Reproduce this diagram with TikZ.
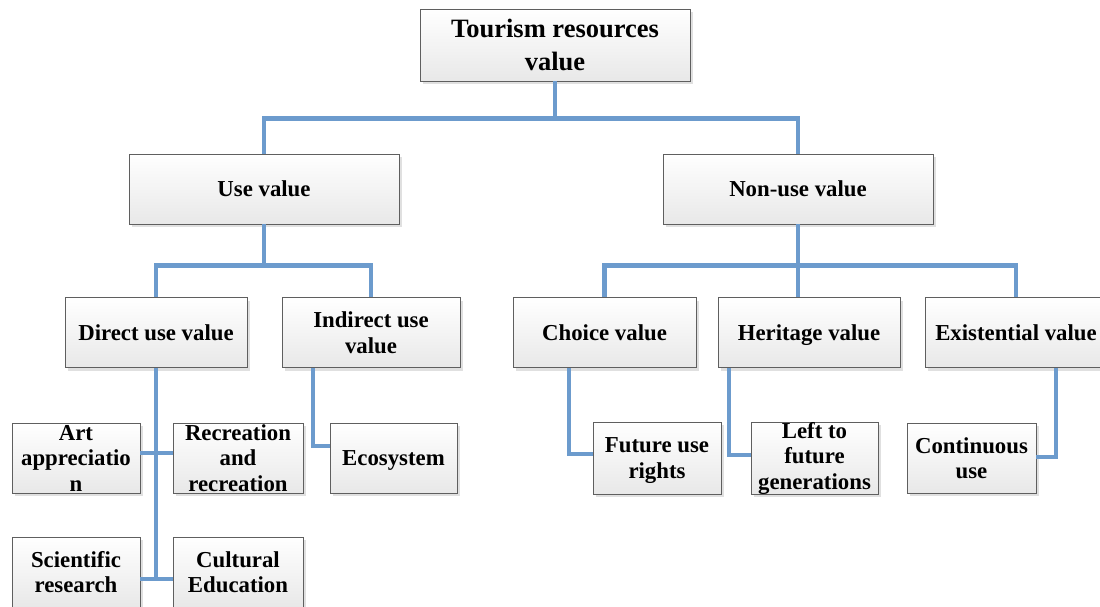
\documentclass[tikz,border=0pt]{standalone}
\usepackage{fontspec}
\setmainfont{Liberation Serif}
\usepackage{tikz}
\usetikzlibrary{shadows}

\definecolor{linkblue}{RGB}{108,155,205}
\definecolor{boxedge}{RGB}{95,95,95}

\begin{document}
\begin{tikzpicture}[x=1pt,y=-1pt,
  box node/.style={rectangle,draw=boxedge,line width=0.8pt,top color=white,bottom color=black!9,
    drop shadow={shadow xshift=3pt,shadow yshift=-3pt,fill=black!12,opacity=1},
    align=center,inner sep=0pt,minimum height=70pt,font=\fontsize{22.8}{25.5}\selectfont\bfseries},
  link/.style={draw=linkblue,line width=4.5pt}]

  \useasboundingbox (0,0) rectangle (1100,606);

  \node[box node,minimum width=270pt,minimum height=72pt,font=\fontsize{26.5}{33}\selectfont\bfseries] (root) at (555,45) {Tourism resources\\value};
  \node[box node,minimum width=270pt] (usev) at (264,189) {Use value};
  \node[box node,minimum width=270pt] (nonuse) at (798,189) {Non-use value};

  \node[box node,minimum width=182pt] (direct) at (156,332.5) {Direct use value};
  \node[box node,minimum width=178pt] (indirect) at (371,332.5) {Indirect use\\value};
  \node[box node,minimum width=183pt] (choice) at (604.5,332.5) {Choice value};
  \node[box node,minimum width=182pt] (heritage) at (809,332.5) {Herita\smash{g}e value};
  \node[box node,minimum width=182pt] (exist) at (1016,332.5) {Existential value};

  \node[box node,minimum width=128pt] (art) at (76,458) {Art\\appreciatio\\n};
  \node[box node,minimum width=130pt] (recr) at (238,458) {Recreation\\and\\recreation};
  \node[box node,minimum width=128pt] (sci) at (76,572) {Scientific\\research};
  \node[box node,minimum width=130pt] (cult) at (238,572) {Cultural\\Education};
  \node[box node,minimum width=127pt] (eco) at (393.5,458) {Ecos\smash{y}stem};
  \node[box node,minimum width=128pt,minimum height=72pt] (future) at (657,458) {Future use\\ri\smash{g}hts};
  \node[box node,minimum width=127pt] (left) at (814.5,458) {Left to\\future\\generations};
  \node[box node,minimum width=129pt] (cont) at (971.5,458) {Continuous\\use};

  % tree links
  \draw[link] (root.south) -- ++(0,37) coordinate (rj);
  \draw[link] (usev.north) |- (rj) -| (nonuse.north);

  \draw[link] (usev.south) -- ++(0,41) coordinate (uj);
  \draw[link] (direct.north) |- (uj) -| (indirect.north);

  \draw[link] (nonuse.south) -- ++(0,41) coordinate (nj);
  \draw[link] (choice.north) |- (nj) -| (exist.north);
  \draw[link] (nj) -- (nj |- heritage.north);

  % leaf links
  \coordinate (sj) at ([yshift=-7pt]sci.east);
  \draw[link] (direct.south) -- (direct.south |- sj);
  \draw[link] (sj) -- (sj -| cult.west);
  \draw[link] ([yshift=5pt]art.east) -- ([yshift=5pt]recr.west);
  \draw[link] ([xshift=-58pt]indirect.south) |- ([yshift=12pt]eco.west);
  \draw[link] ([xshift=-35.5pt]choice.south) |- ([yshift=4pt]future.west);
  \draw[link] ([xshift=-80pt]heritage.south) |- ([yshift=3pt]left.west);
  \draw[link] ([xshift=40pt]exist.south) |- ([yshift=1pt]cont.east);
\end{tikzpicture}
\end{document}
